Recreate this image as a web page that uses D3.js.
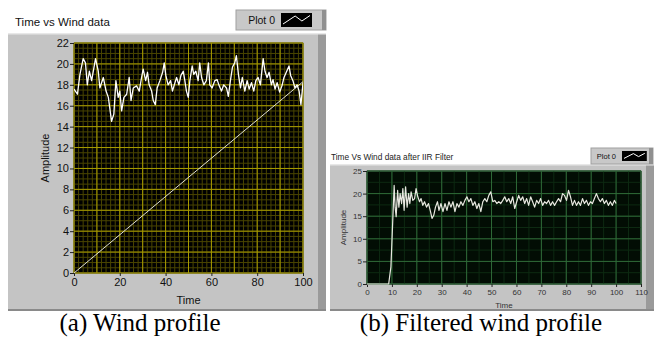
<!DOCTYPE html>
<html>
<head>
<meta charset="utf-8">
<script src="https://cdn.jsdelivr.net/npm/d3@7"></script>
<style>
  html, body { margin: 0; padding: 0; background: #fff; }
  svg { display: block; }
</style>
</head>
<body>
<svg id="chart" width="654" height="338"></svg>
<script>
// (a) raw wind samples
const windT = [0, 1.5, 2.6, 4, 5, 5.8, 6.7, 7.7, 9.4, 10.6, 11.3, 12.8, 14, 15, 16.4, 17.4, 18.3, 19.3, 20, 20.8,
  21.8, 23, 24.1, 24.9, 25.9, 27.3, 28.5, 29.5, 30.2, 31.3, 32.1, 32.8, 33.9, 34.6, 35.5, 36.3, 37.5, 38.7, 39.4, 40.1,
  41.1, 42.2, 43, 43.8, 44.8, 45.8, 46.7, 47.7, 48.4, 49.1, 49.9, 50.6, 51.6, 52.3, 53.2, 54.2, 54.9, 55.7, 56.7, 57.8,
  58.7, 59.3, 60.3, 61.5, 62.5, 63.4, 64.4, 65.4, 66.6, 67.4, 68.3, 69.2, 70.2, 70.9, 71.8, 72.7, 73.5, 74.6, 75.6, 76.5,
  77.5, 78.5, 79.4, 80.4, 81.4, 82.6, 83.4, 84.3, 85.2, 86.2, 86.9, 87.8, 88.7, 89.8, 90.8, 91.7, 92.7, 93.9, 94.6, 95.6,
  96.5, 97.4, 98.3, 99.1, 100];
const windV = [17.6, 17.1, 19, 20.5, 20.1, 18, 19.3, 18.4, 20.5, 19.3, 17.7, 18.7, 17.4, 16.8, 14.5, 15.2, 18.4, 16.8, 17.4, 15.5,
  16.8, 17.1, 18.7, 16.5, 17.7, 17.9, 17.4, 18.7, 19.5, 18.4, 19.2, 18, 17.4, 16.5, 16.1, 17.7, 18.4, 19.2, 20.1, 18.9,
  18, 18.4, 17.4, 18, 18.7, 18, 18.9, 19.3, 18.4, 17.4, 16.8, 18.4, 19.8, 19, 19.3, 18.4, 20.1, 18.7, 18, 18.4,
  20.1, 18, 17.7, 18.4, 18.5, 17.9, 17.4, 18, 17.7, 16.9, 18.4, 19.7, 20.1, 20.8, 19, 17.7, 18.7, 17.4, 18.4, 17.6,
  18.2, 17.4, 18.4, 18.7, 18, 20.5, 19.3, 18.7, 19.2, 18, 18.5, 17.6, 18.2, 17.3, 17.9, 18.7, 19.2, 19.8, 18.9, 18.4,
  17.7, 18, 17.4, 16.1, 18.2];
// (a) straight reference line
const rampT = [0, 100];
const rampV = [0, 18.3];

// (b) IIR-filtered samples
const filtT = [0, 8.7, 9.6, 10.4, 10.9, 11.3, 11.7, 12.3, 12.8, 13.3, 13.9, 14.4, 14.9, 15.5, 16.1, 16.7, 17.2, 17.7, 18.4, 19.1,
  19.7, 20.4, 21.1, 21.7, 22.4, 23.1, 23.9, 24.7, 25.5, 26.1, 26.8, 27.5, 28.3, 28.9, 29.7, 30.5, 31.3, 32.1, 32.9, 33.7,
  34.5, 35.3, 36.1, 36.9, 37.7, 38.5, 39.3, 40.1, 40.9, 41.7, 42.5, 43.3, 44.1, 44.9, 45.7, 46.5, 47.3, 48.1, 48.9, 49.7,
  50.5, 51.3, 52.1, 52.9, 53.7, 54.5, 55.3, 56.1, 56.9, 57.7, 58.5, 59.3, 60.1, 60.9, 61.7, 62.5, 63.3, 64.1, 64.9, 65.7,
  66.5, 67.3, 68.1, 68.9, 69.7, 70.5, 71.3, 72.1, 72.9, 73.7, 74.5, 75.3, 76.1, 76.9, 77.7, 78.5, 79.3, 80.1, 80.9, 81.7,
  82.5, 83.3, 84.1, 84.9, 85.7, 86.5, 87.3, 88.1, 88.9, 89.7, 90.5, 91.3, 92.1, 92.9, 93.7, 94.5, 95.3, 96.1, 96.9, 97.7,
  98.5, 99.3, 100];
const filtV = [0, 0, 3.8, 14.9, 21.8, 17, 14.9, 20.7, 17, 20, 17.8, 21.1, 16.3, 21.5, 17, 20, 17.8, 20.4, 18.5, 18.9,
  21.1, 19.3, 18.2, 18.9, 17.4, 18.2, 17, 17.8, 16, 14.5, 15.2, 17, 18.2, 16.3, 17.8, 16, 17.8, 16.3, 18.2, 17,
  18.2, 16, 17.8, 17, 18.2, 17.4, 18.5, 19.3, 18.2, 18.9, 17.4, 18.2, 16.7, 17.8, 16, 18.2, 18.9, 18.2, 19.6, 20.4,
  18.2, 18.5, 17.8, 18.2, 17.8, 18.5, 19.3, 18.2, 18.9, 17.8, 19.3, 16.7, 18.2, 19.6, 18.5, 19.3, 17.8, 18.9, 17.4, 19.3,
  18.2, 17, 18.5, 17.8, 18.9, 17.4, 18.2, 17.8, 18.5, 17.4, 18.2, 17.4, 18.2, 18.9, 18.2, 20, 19.6, 18.5, 20.7, 19.3,
  17.4, 18.5, 17.4, 18.2, 17.4, 18.9, 17.8, 18.5, 17.4, 18.2, 17.8, 18.9, 20, 18.9, 18.2, 18.9, 17.8, 18.5, 17.4, 18.2,
  17.4, 18.5, 17.8];

const ticksA_x = [0, 20, 40, 60, 80, 100];
const ticksA_y = [0, 2, 4, 6, 8, 10, 12, 14, 16, 18, 20, 22];
const ticksB_x = [0, 10, 20, 30, 40, 50, 60, 70, 80, 90, 100, 110];
const ticksB_y = [0, 5, 10, 15, 20, 25];

const svg = d3.select('#chart');
const uiFont = "'Liberation Sans', Arial, sans-serif";
const serif = "'Liberation Serif', 'Times New Roman', serif";

function bevelPanel(x, y, w, h) {
  svg.append('rect').attr('x', x).attr('y', y).attr('width', w).attr('height', h).attr('fill', '#c4c4c4');
  svg.append('rect').attr('x', x + w - 8).attr('y', y).attr('width', 8).attr('height', h).attr('fill', '#9a9a9a');
  svg.append('rect').attr('x', x).attr('y', y).attr('width', w).attr('height', 1.5).attr('fill', '#e8e8e8');
  svg.append('rect').attr('x', x).attr('y', y + h - 2).attr('width', w).attr('height', 2).attr('fill', '#8a8a8a');
}

function legendBox(x, y, w, h, fs) {
  const g = svg.append('g');
  g.append('rect').attr('x', x).attr('y', y).attr('width', w).attr('height', h).attr('fill', '#c8c8c8')
    .attr('stroke', '#a0a0a0');
  g.append('rect').attr('x', x + w - 4).attr('y', y).attr('width', 4).attr('height', h).attr('fill', '#909090');
  g.append('text').attr('x', x + w * 0.5 - 6).attr('y', y + h / 2 + fs * 0.36).attr('text-anchor', 'end')
    .attr('font-family', uiFont).attr('font-size', fs).attr('fill', '#111').text('Plot 0');
  const bw = h * 1.55, bh = h - 6;
  const bx = x + w * 0.5, by = y + 3;
  g.append('rect').attr('x', bx).attr('y', by).attr('width', bw).attr('height', bh).attr('fill', '#000');
  const gx = d3.scaleLinear().domain([0, 1]).range([bx + 2, bx + bw - 2]);
  const gy = d3.scaleLinear().domain([-1, 1]).range([by + bh - 2, by + 2]);
  g.append('path').attr('fill', 'none').attr('stroke', '#fff').attr('stroke-width', 1)
    .attr('d', d3.line().x((d) => gx(d[0])).y((d) => gy(d[1]))([[0, -0.8], [0.45, 0.8], [0.7, -0.2], [1, 0.9]]));
}

function plot(cfg) {
  const { x, y } = cfg;
  const g = svg.append('g');
  g.append('rect').attr('x', x.range()[0]).attr('y', y.range()[1])
    .attr('width', x.range()[1] - x.range()[0]).attr('height', y.range()[0] - y.range()[1])
    .attr('fill', cfg.bg).attr('stroke', '#7a7a7a');

  // minor grid
  g.append('g').selectAll('line').data(d3.range(x.domain()[0], x.domain()[1] + 1e-9, cfg.minorX)).join('line')
    .attr('x1', (d) => x(d)).attr('x2', (d) => x(d)).attr('y1', y.range()[0]).attr('y2', y.range()[1])
    .attr('stroke', cfg.minorColor).attr('stroke-width', 1);
  g.append('g').selectAll('line').data(d3.range(y.domain()[0], y.domain()[1] + 1e-9, cfg.minorY)).join('line')
    .attr('y1', (d) => y(d)).attr('y2', (d) => y(d)).attr('x1', x.range()[0]).attr('x2', x.range()[1])
    .attr('stroke', cfg.minorColor).attr('stroke-width', 1);
  // major grid
  g.append('g').selectAll('line').data(d3.range(x.domain()[0], x.domain()[1] + 1e-9, cfg.majorX)).join('line')
    .attr('x1', (d) => x(d)).attr('x2', (d) => x(d)).attr('y1', y.range()[0]).attr('y2', y.range()[1])
    .attr('stroke', cfg.majorColor).attr('stroke-width', 1);
  g.append('g').selectAll('line').data(d3.range(y.domain()[0], y.domain()[1] + 1e-9, cfg.majorY)).join('line')
    .attr('y1', (d) => y(d)).attr('y2', (d) => y(d)).attr('x1', x.range()[0]).attr('x2', x.range()[1])
    .attr('stroke', cfg.majorColor).attr('stroke-width', 1);

  const ax = g.append('g').attr('transform', `translate(0,${y.range()[0]})`)
    .call(d3.axisBottom(x).tickValues(cfg.ticksX).tickSize(3).tickPadding(2));
  const ay = g.append('g').attr('transform', `translate(${x.range()[0]},0)`)
    .call(d3.axisLeft(y).tickValues(cfg.ticksY).tickSize(4).tickPadding(1));
  [ax, ay].forEach((a) => {
    a.select('.domain').remove();
    a.selectAll('line').attr('stroke', '#222');
    a.selectAll('text').attr('font-family', uiFont).attr('font-size', cfg.fs).attr('fill', cfg.tickColor);
  });

  g.append('text').attr('x', (x.range()[0] + x.range()[1]) / 2).attr('y', cfg.xLabelY)
    .attr('text-anchor', 'middle').attr('font-family', uiFont).attr('font-size', cfg.fs)
    .attr('fill', cfg.tickColor).text('Time');
  g.append('text').attr('transform', `translate(${cfg.yLabelX},${(y.range()[0] + y.range()[1]) / 2}) rotate(-90)`)
    .attr('text-anchor', 'middle').attr('font-family', uiFont).attr('font-size', cfg.fs)
    .attr('fill', cfg.tickColor).text('Amplitude');

  const clip = 'clip' + cfg.id;
  svg.append('clipPath').attr('id', clip).append('rect')
    .attr('x', x.range()[0]).attr('y', y.range()[1] - 1)
    .attr('width', x.range()[1] - x.range()[0]).attr('height', y.range()[0] - y.range()[1] + 2);
  const line = d3.line().x((d) => x(d[0])).y((d) => y(d[1]));
  cfg.series.forEach((s) => {
    g.append('path').attr('clip-path', `url(#${clip})`).attr('fill', 'none')
      .attr('stroke', s.color).attr('stroke-width', s.width).attr('stroke-linejoin', 'round')
      .attr('d', line(d3.zip(s.t, s.v)));
  });
}

// ---- panel (a)
bevelPanel(8, 33, 318, 278);
svg.append('text').attr('x', 15).attr('y', 26).attr('font-family', uiFont).attr('font-size', 11.5)
  .attr('fill', '#111').text('Time vs Wind data');
legendBox(236, 10, 90, 20, 10.5);

plot({
  id: 'a',
  x: d3.scaleLinear().domain([0, 100]).range([74, 303]),
  y: d3.scaleLinear().domain([0, 22]).range([273, 43]),
  bg: '#000', minorColor: '#4a4500', majorColor: '#a89c00',
  minorX: 2, minorY: 0.5, majorX: 10, majorY: 2,
  ticksX: ticksA_x, ticksY: ticksA_y, fs: 11, tickColor: '#111',
  xLabelY: 304, yLabelX: 49,
  series: [
    { t: rampT, v: rampV, color: '#e0e0d0', width: 1 },
    { t: windT, v: windV, color: '#ffffff', width: 1.3 },
  ],
});

// ---- panel (b)
bevelPanel(330, 164, 324, 147);
svg.append('text').attr('x', 331).attr('y', 160).attr('font-family', uiFont).attr('font-size', 8.3)
  .attr('fill', '#222').text('Time Vs Wind data after IIR Filter');
legendBox(591, 148, 62, 16, 7.5);

plot({
  id: 'b',
  x: d3.scaleLinear().domain([0, 110]).range([367, 641]),
  y: d3.scaleLinear().domain([0, 25]).range([284, 171]),
  bg: '#020d04', minorColor: '#0d2a12', majorColor: '#2f6a38',
  minorX: 5, minorY: 2.5, majorX: 10, majorY: 5,
  ticksX: ticksB_x, ticksY: ticksB_y, fs: 8, tickColor: '#333',
  xLabelY: 308, yLabelX: 346,
  series: [
    { t: filtT, v: filtV, color: '#e8e8e0', width: 1.2 },
  ],
});

// ---- captions
svg.append('text').attr('x', 140).attr('y', 331).attr('text-anchor', 'middle')
  .attr('font-family', serif).attr('font-size', 25)
  .attr('fill', '#000').text('(a) Wind profile');
svg.append('text').attr('x', 481).attr('y', 331).attr('text-anchor', 'middle')
  .attr('font-family', serif).attr('font-size', 25)
  .attr('fill', '#000').text('(b) Filtered wind profile');
</script>
</body>
</html>
